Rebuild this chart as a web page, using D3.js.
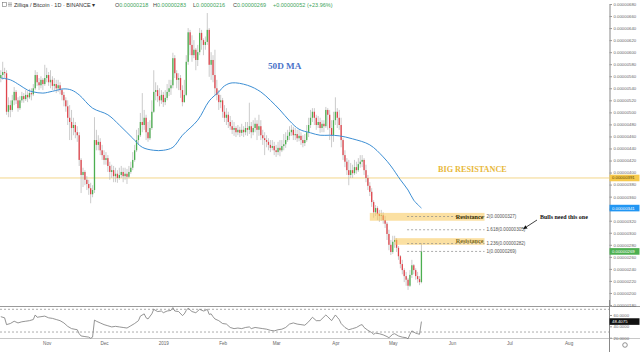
<!DOCTYPE html>
<html><head><meta charset="utf-8">
<script src="https://cdn.jsdelivr.net/npm/d3@7"></script>
<style>body{margin:0;background:#fff}svg{display:block}</style>
</head><body><svg id="c" width="640" height="352"></svg>
<script>
// ---- DATA (prices in units of 1e-8 BTC) ----
const startDate = Date.UTC(2018, 9, 8);      // first daily candle
const firstOpen = 557;
const closes = [
562,567,565,501,512,504,520,534,520,507,
520,527,522,529,525,532,530,540,562,550,
545,554,547,557,562,550,554,544,547,540,
545,537,529,520,510,491,484,474,479,467,
462,421,396,401,388,381,374,364,371,454,
446,451,437,429,421,424,411,401,404,394,
398,391,396,401,394,398,393,401,408,421,
437,454,462,484,479,491,467,457,474,501,
534,537,527,520,529,517,524,534,540,545,
590,565,554,557,537,517,529,584,633,612,
595,604,587,600,632,620,612,617,637,579,
587,562,540,529,517,520,501,491,496,484,
477,471,474,467,471,466,471,467,474,471,
477,467,474,481,471,477,462,457,454,451,
446,441,444,437,434,441,437,444,447,454,
461,467,471,462,464,457,461,454,449,454,
467,479,491,501,491,479,484,474,481,477,
504,496,474,462,487,501,491,479,454,429,
418,404,396,404,399,409,404,414,418,421,
404,391,378,368,351,334,341,331,328,329,
321,315,298,280,268,285,288,275,261,248,
238,228,222,212,230,246,238,228,223,218,
269];
const highs = [
570,584,574,570,525,520,529,542,537,525,
527,534,532,537,535,539,540,547,570,567,
557,560,557,579,574,567,570,560,557,554,
554,550,540,534,525,520,512,504,491,484,
477,467,424,408,404,394,388,383,379,492,
471,462,457,446,437,434,429,418,413,411,
408,404,408,411,408,408,406,411,418,434,
446,471,474,499,532,504,496,484,487,520,
570,550,545,540,537,534,537,547,554,554,
599,595,570,565,562,545,554,595,640,637,
628,620,607,612,640,637,623,626,665,640,
600,595,604,554,537,529,524,512,507,501,
494,487,484,477,479,476,481,477,484,484,
516,484,487,491,487,496,487,471,467,462,
457,454,454,451,446,451,454,454,464,467,
471,477,479,476,474,471,471,467,462,464,
479,491,504,507,507,496,494,491,487,487,
509,507,504,487,501,525,507,504,491,457,
437,424,421,416,413,421,418,424,429,429,
424,413,396,384,374,354,346,344,338,338,
334,328,318,305,288,295,295,291,278,263,
255,241,235,225,238,255,248,241,235,228,
283];
const lows = [
550,554,557,496,492,492,501,512,514,501,
504,516,516,519,517,522,520,527,537,544,
537,540,537,544,550,544,540,537,537,532,
534,530,520,510,501,479,454,454,462,457,
451,411,366,376,379,371,363,349,359,366,
437,437,429,421,413,413,401,388,391,384,
384,383,388,391,384,388,381,391,398,404,
418,434,446,459,467,471,454,451,454,471,
499,520,517,510,514,509,512,520,527,529,
540,557,540,537,524,510,516,527,579,595,
584,590,570,577,595,604,595,604,612,559,
554,550,529,520,504,507,491,484,479,474,
471,464,461,459,462,459,461,459,462,461,
464,457,462,467,454,461,454,446,429,442,
437,434,437,429,426,429,427,434,437,441,
451,454,461,454,454,451,452,446,442,444,
451,459,474,484,479,471,474,466,467,467,
474,471,454,442,451,479,474,471,442,421,
409,396,379,391,391,396,398,401,408,409,
396,384,371,361,343,325,328,321,318,320,
315,308,288,271,263,265,275,268,255,241,
231,218,212,205,210,225,231,222,217,213,
216];
// 50-day moving average, read at these candle indices
const maDay = [0,5,10,14,17,22,27,33,37,41,48,56,62,69,74,80,85,90,95,103,109,114,117,121,129,136,141,146,151,156,162,167,172,177,184,193,200,204,209,213,216,220];
const maVal = [557,554,545,537,534,532,535,539,537,529,507,496,479,457,442,437,437,442,462,487,519,534,544,549,545,534,520,504,486,472,466,462,462,461,456,446,426,411,388,371,354,341];
// RSI read at these candle indices
const rsiDay = [0,2,3,5,7,9,11,13,15,17,18,19,21,23,25,27,29,31,33,35,37,40,41,42,44,46,47,48,49,50,52,54,56,58,60,62,64,66,68,70,72,73,75,76,77,79,80,82,84,85,87,89,90,91,93,95,96,97,98,100,102,104,106,107,108,109,110,111,112,114,116,118,120,122,124,126,128,130,131,133,135,137,139,141,143,145,147,149,151,153,155,157,159,161,163,165,167,170,171,173,175,176,177,178,180,182,184,186,188,189,190,192,194,195,196,198,200,202,203,205,206,208,210,212,213,214,215,216,217,218,219,220];
const rsiVal = [57,55,43,45,49,46,48,49,50,52,60,56,57,58,55,54,52,50,46,40,36,34,27,23,22,21,19,21,51,49,46,43,41,39,40,39,38,37,41,45,50,58,62,55,53,62,70,66,67,64,67,68,73,67,66,59,62,68,72,66,64,70,67,68,70,61,62,57,53,50,45,44,38,36,37,36,38,39,36,38,37,36,35,33,32,34,35,38,44,46,44,43,42,48,56,50,50,60,57,50,60,56,52,45,38,34,36,38,42,43,38,33,29,26,28,27,25,22,20,26,27,23,21,20,18,26,32,30,28,27,26,48.4075];
const priceTicks = [180,200,220,240,260,280,300,320,340,360,380,400,420,440,460,480,500,520,540,560,580,600,620,640,660,680];
const rsiTicks = [60,40,20];
const monthDates = [[2018,10],[2018,11],[2019,0],[2019,1],[2019,2],[2019,3],[2019,4],[2019,5],[2019,6],[2019,7]];
const monthLabels = ["Nov","Dec","2019","Feb","Mar","Apr","May","Jun","Jul","Aug"];
const fibRatios = ["2","1.618","1.236","1"];
const fibValues = [327,305,282,269];
const zoneTop = [333,291], zoneBottom = [320,280], zoneStartDay = [193,206];
const bigResistance = 391;
const hdr = {O:218,H:283,L:216,C:269,chg:52,pct:23.96};

// ---- SCALES ----
const DAY = 864e5;
const dateOf = i => startDate + i * DAY;
const x = d3.scaleUtc().domain([startDate, Date.UTC(2019,7,22)]).range([0.8, 608.8]);
const y = d3.scaleLinear().domain([180, 680]).range([305, 4]);
const yr = d3.scaleLinear().domain([20, 70]).range([337.7, 309.3]);
const fmtP = v => (v * 1e-8).toFixed(8);
const PR = 609;
const UP = "#4caf50", DN = "#e0454c";
const svg = d3.select("#c");
svg.append("rect").attr("width",640).attr("height",352).attr("fill","#fff");
const defs = svg.append("defs");
defs.append("clipPath").attr("id","mainclip").append("rect").attr("x",0).attr("y",0).attr("width",PR).attr("height",306);
defs.append("marker").attr("id","arr").attr("viewBox","0 0 10 10").attr("refX",9).attr("refY",5)
  .attr("markerWidth",5).attr("markerHeight",5).attr("orient","auto")
  .append("path").attr("d","M0,0L10,5L0,10z").attr("fill","#111");

const main = svg.append("g").attr("clip-path","url(#mainclip)");

// big resistance line
main.append("line").attr("x1",0).attr("x2",PR).attr("y1",y(bigResistance)).attr("y2",y(bigResistance))
  .attr("stroke","#f3d68a").attr("stroke-width",1);

// candles
const candles = closes.map((c,i)=>({d:dateOf(i), o: i ? closes[i-1] : firstOpen, h: highs[i], l: lows[i], c}));
main.append("g").selectAll("line").data(candles).join("line")
  .attr("x1",d=>x(d.d)).attr("x2",d=>x(d.d))
  .attr("y1",d=>y(Math.max(d.h,d.o,d.c))).attr("y2",d=>y(Math.min(d.l,d.o,d.c)))
  .attr("stroke","#b4b4b4").attr("stroke-width",0.7);
main.append("g").selectAll("rect").data(candles).join("rect")
  .attr("x",d=>x(d.d)-0.65).attr("width",1.3)
  .attr("y",d=>y(Math.max(d.o,d.c)))
  .attr("height",d=>Math.max(0.7, Math.abs(y(d.o)-y(d.c))))
  .attr("fill",d=>d.c>=d.o?UP:DN);

// MA
main.append("path").datum(maDay.map((k,i)=>[dateOf(k), maVal[i]]))
  .attr("d", d3.line().x(d=>x(d[0])).y(d=>y(d[1])).curve(d3.curveCatmullRom))
  .attr("fill","none").attr("stroke","#3d8fd4").attr("stroke-width",1);

// resistance zones
const zEnd = x(dateOf(253));
zoneTop.forEach((t,i)=>{
  main.append("rect").attr("x",x(dateOf(zoneStartDay[i]))).attr("width",zEnd-x(dateOf(zoneStartDay[i])))
    .attr("y",y(t)).attr("height",y(zoneBottom[i])-y(t)).attr("fill","#f8c655").attr("fill-opacity",0.55);
});
// fib lines
fibValues.forEach((v,i)=>{
  main.append("line").attr("x1",x(dateOf(212.5))).attr("x2",zEnd).attr("y1",y(v)).attr("y2",y(v))
    .attr("stroke","#888").attr("stroke-width",0.7).attr("stroke-dasharray","2,2");
  svg.append("text").attr("x",zEnd+2).attr("y",y(v)).attr("dy","0.35em")
    .attr("font-family","Liberation Sans, Arial, sans-serif").attr("font-size",4.6).attr("fill","#555")
    .text(`${fibRatios[i]}(${fmtP(v)})`);
});
// annotations
const serif = "Liberation Serif, DejaVu Serif, serif";
svg.append("text").attr("x",zEnd-1).attr("y",y(327)).attr("dy","0.35em").attr("text-anchor","end")
  .attr("font-family",serif).attr("font-weight","bold").attr("font-size",6.2).attr("fill","#3a3000").text("Resistance");
svg.append("text").attr("x",zEnd-1).attr("y",y(286)).attr("dy","0.35em").attr("text-anchor","end")
  .attr("font-family",serif).attr("font-weight","bold").attr("font-size",6.2).attr("fill","#7d6c1f").text("Resistance");
svg.append("text").attr("x",268).attr("y",66).attr("dy","0.35em")
  .attr("font-family",serif).attr("font-weight","bold").attr("font-size",9.2).attr("fill","#4b73c9").text("50D MA");
svg.append("text").attr("x",438).attr("y",169).attr("dy","0.35em")
  .attr("font-family",serif).attr("font-weight","bold").attr("font-size",8.2).attr("fill","#e8b83a").text("BIG RESISTANCE");
svg.append("text").attr("x",540).attr("y",216.5).attr("dy","0.35em")
  .attr("font-family",serif).attr("font-weight","bold").attr("font-size",6).attr("fill","#111").text("Bulls need this one");
svg.append("line").attr("x1",537).attr("y1",220).attr("x2",523.5).attr("y2",228.8)
  .attr("stroke","#111").attr("stroke-width",0.8).attr("marker-end","url(#arr)");

// separators
svg.append("line").attr("x1",0).attr("x2",640).attr("y1",306.5).attr("y2",306.5).attr("stroke","#9a9a9a").attr("stroke-width",1);
svg.append("line").attr("x1",0).attr("x2",640).attr("y1",338.5).attr("y2",338.5).attr("stroke","#c8c8c8").attr("stroke-width",1);

// RSI pane
[70,30].forEach(v=>svg.append("line").attr("x1",0).attr("x2",PR).attr("y1",yr(v)).attr("y2",yr(v))
  .attr("stroke","#8a8a8a").attr("stroke-width",0.7).attr("stroke-dasharray","2,2"));
svg.append("path").datum(rsiDay.map((k,i)=>[dateOf(k), rsiVal[i]]))
  .attr("d", d3.line().x(d=>x(d[0])).y(d=>yr(d[1])))
  .attr("fill","none").attr("stroke","#7a7a7a").attr("stroke-width",0.8);

// price axis
const ax = svg.append("g").attr("transform",`translate(${PR+0.5},0)`)
  .call(d3.axisRight(y).tickValues(priceTicks).tickSize(2.5).tickPadding(1.5).tickFormat(fmtP));
ax.select(".domain").attr("stroke","#888");
ax.selectAll(".tick line").attr("stroke","#999");
ax.selectAll("text").attr("font-family","Liberation Sans, Arial, sans-serif").attr("font-size",4.3).attr("fill","#666");
svg.append("line").attr("x1",PR+0.5).attr("x2",PR+0.5).attr("y1",300).attr("y2",352).attr("stroke","#888");

// RSI axis
const rax = svg.append("g").attr("transform",`translate(${PR+0.5},0)`)
  .call(d3.axisRight(yr).tickValues(rsiTicks).tickSize(2.5).tickPadding(1.5).tickFormat(d=>d.toFixed(4)));
rax.select(".domain").remove();
rax.selectAll(".tick line").attr("stroke","#999");
rax.selectAll("text").attr("font-family","Liberation Sans, Arial, sans-serif").attr("font-size",4.3).attr("fill","#666");

// value labels on axes
function tag(yy, bg, fg, txt){
  svg.append("rect").attr("x",PR+0.5).attr("y",yy-3.3).attr("width",30).attr("height",6.6).attr("fill",bg);
  svg.append("text").attr("x",PR+3).attr("y",yy).attr("dy","0.35em").attr("font-family","Liberation Sans, Arial, sans-serif")
    .attr("font-size",4.3).attr("fill",fg).text(txt);
}
tag(y(bigResistance), "#f6c94c", "#5a4500", fmtP(bigResistance));
tag(y(maVal[maVal.length-1]), "#2196f3", "#fff", fmtP(maVal[maVal.length-1]));
tag(y(closes[closes.length-1]), UP, "#fff", fmtP(closes[closes.length-1]));
tag(yr(rsiVal[rsiVal.length-1]), "#111", "#fff", rsiVal[rsiVal.length-1].toFixed(4));

// time axis
const tx = svg.append("g").attr("transform","translate(0,338.5)")
  .call(d3.axisBottom(x).tickValues(monthDates.map(m=>Date.UTC(m[0],m[1],1))).tickSize(0).tickPadding(3)
  .tickFormat((d,i)=>monthLabels[i]));
tx.select(".domain").remove();
tx.selectAll("text").attr("font-family","Liberation Sans, Arial, sans-serif").attr("font-size",4.6).attr("fill","#666");
svg.append("circle").attr("cx",625).attr("cy",345).attr("r",2.3).attr("fill","none").attr("stroke","#777").attr("stroke-width",0.8);

// header
svg.append("rect").attr("x",2.5).attr("y",2.5).attr("width",4).attr("height",4).attr("fill","none").attr("stroke","#777").attr("stroke-width",0.6);
[3,4.5,6].forEach(v=>svg.append("line").attr("x1",8).attr("x2",12).attr("y1",v).attr("y2",v).attr("stroke","#777").attr("stroke-width",0.6));
const hf = "Liberation Sans, Arial, sans-serif";
svg.append("text").attr("x",14).attr("y",6.6).attr("font-family",hf).attr("font-size",5.5).attr("fill","#333")
  .text("Zilliqa / Bitcoin · 1D · BINANCE ▾");
const parts = [["O",fmtP(hdr.O),115],["H",fmtP(hdr.H),153],["L",fmtP(hdr.L),193],["C",fmtP(hdr.C),233],["",`+${fmtP(hdr.chg)}`,273],["",`(+${hdr.pct}%)`,307]];
parts.forEach(p=>{
  const t = svg.append("text").attr("x",p[2]).attr("y",6.6).attr("font-family",hf).attr("font-size",5.5);
  if(p[0]) t.append("tspan").attr("fill","#444").text(p[0]);
  t.append("tspan").attr("fill","#3fa55b").text(p[1]);
});
</script></body></html>
